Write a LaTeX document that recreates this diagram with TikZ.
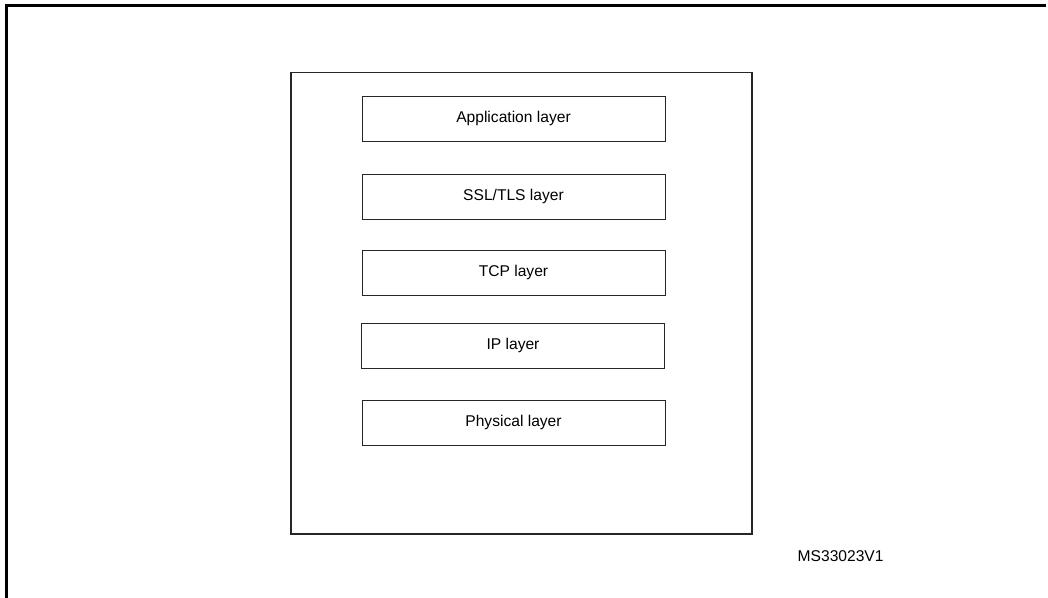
\documentclass[tikz,border=0pt]{standalone}
\usepackage{fontspec}
\setmainfont{Liberation Sans}
\begin{document}
\begin{tikzpicture}[x=1pt,y=-1pt,
  layerbox/.style={draw=black!85, line width=0.8pt, minimum width=303pt,
    minimum height=45pt, inner sep=0pt, font=\fontsize{15.6}{18}\selectfont},
  stackframe/.style={draw=black!85, line width=1.2pt},
  pageframe/.style={draw=black, line width=2.2pt},
  tag/.style={inner sep=0pt, font=\fontsize{15.6}{18}\selectfont}]
  \useasboundingbox (0,0) rectangle (1048,597);
  % page frame: top rule and left rule
  \draw[pageframe] (6.5,598) -- (6.5,5.5) -- (1046,5.5);
  % enclosing stack box
  \draw[stackframe] (291,72.5) rectangle (752,534);
  % protocol layers
  \node[layerbox] (app)  at (513.5,118.5) {Application layer};
  \node[layerbox] (ssl)  at (513.5,196.5) {SSL/TLS layer};
  \node[layerbox] (tcp)  at (513.5,272.5) {TCP layer};
  \node[layerbox] (ip)   at (513,345.5)   {IP layer};
  \node[layerbox] (phy)  at (513.5,422.5) {Physical layer};
  % reference tag
  \node[tag, anchor=west] (ref) at (797.5,556.5) {MS33023V1};
\end{tikzpicture}
\end{document}
